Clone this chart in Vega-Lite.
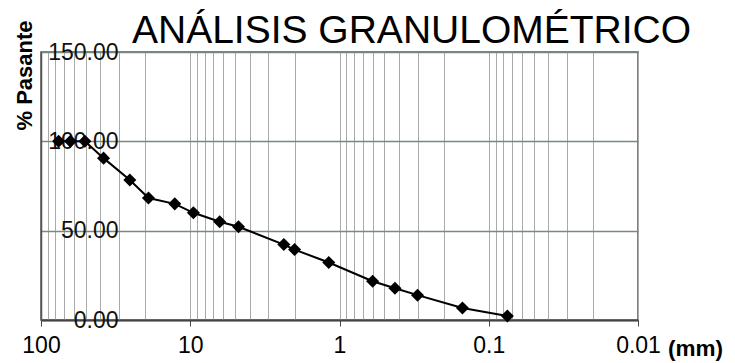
{
  "$schema": "https://vega.github.io/schema/vega-lite/v6.json",
  "width": 597,
  "height": 268,
  "autosize": {"type": "none"},
  "padding": {"left": 41, "top": 52, "right": 97, "bottom": 43},
  "background": "white",
  "config": {
    "font": "Liberation Sans",
    "view": {"stroke": "#555", "strokeWidth": 1.5}
  },
  "title": {
    "text": "ANÁLISIS GRANULOMÉTRICO",
    "fontSize": 39,
    "fontWeight": "normal",
    "color": "black",
    "anchor": "middle",
    "frame": "group",
    "dx": 72,
    "baseline": "alphabetic",
    "offset": -62
  },
  "data": {
    "values": [
      {"size": 76.2, "pass": 100},
      {"size": 63.5, "pass": 100},
      {"size": 50.8, "pass": 100},
      {"size": 38.1, "pass": 90.6},
      {"size": 25.4, "pass": 78.3},
      {"size": 19.05, "pass": 68.3},
      {"size": 12.7, "pass": 65},
      {"size": 9.525, "pass": 60},
      {"size": 6.35, "pass": 55},
      {"size": 4.75, "pass": 52.2},
      {"size": 2.36, "pass": 42.2},
      {"size": 2.0, "pass": 39.4},
      {"size": 1.18, "pass": 32.2},
      {"size": 0.6, "pass": 21.7},
      {"size": 0.425, "pass": 17.8},
      {"size": 0.3, "pass": 13.9},
      {"size": 0.15, "pass": 6.7},
      {"size": 0.075, "pass": 2.2}
    ]
  },
  "encoding": {
    "x": {
      "field": "size",
      "type": "quantitative",
      "scale": {"type": "log", "domain": [0.01, 100], "reverse": true, "nice": false, "zero": false},
      "axis": {
        "title": "(mm)",
        "titleFontSize": 22.5,
        "titleFontWeight": "bold",
        "titleColor": "black",
        "titleX": 654,
        "titleY": 28,
        "titleAlign": "center",
        "titleBaseline": "middle",
        "values": [0.01,0.02,0.03,0.04,0.05,0.06,0.07,0.08,0.09,0.1,0.2,0.3,0.4,0.5,0.6,0.7,0.8,0.9,1,2,3,4,5,6,7,8,9,10,20,30,40,50,60,70,80,90,100],
        "labelExpr": "indexof([100,10,1,0.1,0.01], datum.value) >= 0 ? format(datum.value, '~g') : ''",
        "labelFontSize": 23,
        "labelColor": "black",
        "labelFlush": false,
        "labelOverlap": false,
        "labelPadding": 8,
        "tickSize": 6,
        "tickColor": "#444",
        "tickOpacity": {"condition": {"test": "indexof([100,10,1,0.1,0.01], datum.value) >= 0", "value": 1}, "value": 0},
        "grid": true,
        "gridColor": "#aaa",
        "gridWidth": 1,
        "domainColor": "#444",
        "domainWidth": 2
      }
    },
    "y": {
      "field": "pass",
      "type": "quantitative",
      "scale": {"domain": [0, 150], "nice": false},
      "axis": {
        "title": "% Pasante",
        "titleFontSize": 22,
        "titleFontWeight": "bold",
        "titleColor": "black",
        "titleX": -17,
        "titleY": 23,
        "titleAlign": "center",
        "titleBaseline": "middle",
        "values": [0, 50, 100, 150],
        "format": ".2f",
        "labelFontSize": 23,
        "labelColor": "#111",
        "labelPadding": -77,
        "labelBaseline": "middle",
        "labelFlush": false,
        "ticks": false,
        "grid": true,
        "gridColor": "#788a80",
        "gridWidth": 1.5,
        "domainColor": "#555",
        "domainWidth": 1.5
      }
    }
  },
  "layer": [
    {"mark": {"type": "line", "color": "black", "strokeWidth": 2}},
    {"mark": {"type": "point", "shape": "diamond", "filled": true, "size": 170, "color": "black", "opacity": 1}}
  ]
}
